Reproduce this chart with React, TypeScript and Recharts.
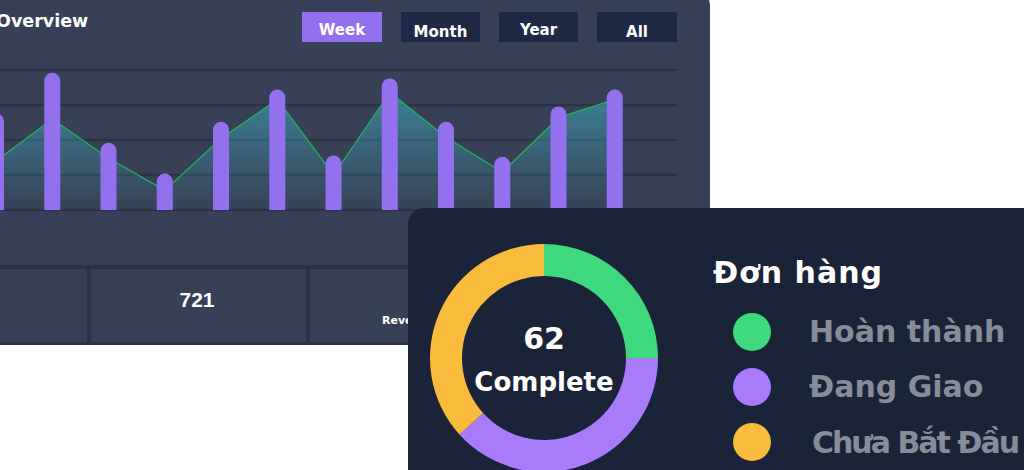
import React from 'react';
import { ComposedChart, Bar, Area, XAxis, YAxis, CartesianGrid, PieChart, Pie, Cell } from 'recharts';

// ---- data ----
const periods = ['P1', 'P2', 'P3', 'P4', 'P5', 'P6', 'P7', 'P8', 'P9', 'P10', 'P11', 'P12'];
const barValues = [69, 98, 48, 26, 63, 86, 39, 94, 63, 38, 74, 86];
const areaValues = [35, 65, 37, 14, 51, 79, 25, 84, 52, 27, 66, 79];
const yTicks = [0, 25, 50, 75, 100];
const rangeButtons = ['Week', 'Month', 'Year', 'All'];
const statValue = '721';
const statLabel = 'Revenue';
const chartTitle = 'Overview';

const orderTitle = 'Đơn hàng';
const orderLabels = ['Hoàn thành', 'Đang Giao', 'Chưa Bắt Đầu'];
const orderValues = [62, 95, 91];
const orderColors = ['#3dd97c', '#a87bfa', '#f8bb3c'];
const centerValue = '62';
const centerLabel = 'Complete';

const chartData = periods.map((p, i) => ({ name: p, bar: barValues[i], area: areaValues[i] }));
const pieData = orderLabels.map((l, i) => ({ name: l, value: orderValues[i] }));

const FONT = '"DejaVu Sans", sans-serif';
const CARD1 = '#374056';
const SEP = '#2b3345';

// button layout (card-local)
const btnX = [342, 441, 539, 637];
const btnW = [80, 79, 79, 80];
const btnTextY = [48.7, 50.7, 48.7, 50.7];

export default function App() {
  return (
    <div style={{ position: 'absolute', left: 0, top: 0, width: 1024, height: 470, overflow: 'hidden', background: '#ffffff' }}>
      {/* Overview card */}
      <div style={{ position: 'absolute', left: -40, top: -14, width: 750, height: 359, borderRadius: 20, background: CARD1, overflow: 'hidden' }}>
        <svg width={750} height={359} style={{ position: 'absolute', left: 0, top: 0 }}>
          <text x={36} y={41} fill="#ffffff" fontFamily={FONT} fontWeight={700} fontSize={17.5}>{chartTitle}</text>
          {rangeButtons.map((b, i) => (
            <g key={b}>
              <rect x={btnX[i]} y={26} width={btnW[i]} height={30} fill={i === 0 ? '#9370ee' : '#1f2945'} />
              <text x={btnX[i] + btnW[i] / 2} y={btnTextY[i]} textAnchor="middle" fill="#ffffff" fontFamily={FONT} fontWeight={700} fontSize={15}>{b}</text>
            </g>
          ))}
          <rect x={0} y={279} width={750} height={4} fill={SEP} />
          <rect x={127} y={283} width={4} height={76} fill={SEP} />
          <rect x={346} y={283} width={4} height={76} fill={SEP} />
          <rect x={0} y={356} width={750} height={3} fill={SEP} />
          <text x={237} y={320.7} textAnchor="middle" fill="#ffffff" fontFamily={'"Liberation Sans", sans-serif'} fontWeight={700} fontSize={21}>{statValue}</text>
          <text x={422} y={338} fill="#ffffff" fontFamily={FONT} fontWeight={700} fontSize={11}>{statLabel}</text>
        </svg>
        <div style={{ position: 'absolute', left: 8, top: 79 }}>
          <ComposedChart width={709} height={150} data={chartData} margin={{ top: 5, right: 0, bottom: 5, left: 0 }}>
            <defs>
              <linearGradient id="areaFill" x1="0" y1="0" x2="0" y2="1">
                <stop offset="0%" stopColor="#41c2d6" stopOpacity={0.85} />
                <stop offset="100%" stopColor="#41c2d6" stopOpacity={0.02} />
              </linearGradient>
            </defs>
            <CartesianGrid vertical={false} stroke={SEP} strokeWidth={2.6} />
            <XAxis dataKey="name" hide padding={{ left: 0, right: 34 }} />
            <YAxis hide domain={[0, 100]} ticks={yTicks} />
            <Area type="linear" dataKey="area" stroke="#1fb158" strokeWidth={1.3} fill="url(#areaFill)" isAnimationActive={false} dot={false} activeDot={false} />
            <Bar dataKey="bar" fill="#9370ee" barSize={16} radius={[8, 8, 0, 0]} isAnimationActive={false} />
          </ComposedChart>
        </div>
      </div>

      {/* Orders card */}
      <div style={{ position: 'absolute', left: 408, top: 208, width: 640, height: 280, borderRadius: 16, background: '#1b2338', overflow: 'hidden' }}>
        <div style={{ position: 'absolute', left: 0, top: 0 }}>
          <PieChart width={300} height={262} margin={{ top: 0, right: 0, bottom: 0, left: 0 }}>
            <Pie data={pieData} dataKey="value" nameKey="name" cx={136} cy={150} innerRadius={82} outerRadius={114} startAngle={90} endAngle={-270} stroke="none" isAnimationActive={false}>
              {pieData.map((d, i) => (
                <Cell key={d.name} fill={orderColors[i]} />
              ))}
            </Pie>
          </PieChart>
        </div>
        <svg width={640} height={280} style={{ position: 'absolute', left: 0, top: 0, pointerEvents: 'none' }}>
          <text x={136} y={141.3} textAnchor="middle" fill="#ffffff" fontFamily={FONT} fontWeight={700} fontSize={30}>{centerValue}</text>
          <text x={136} y={182.7} textAnchor="middle" fill="#ffffff" fontFamily={FONT} fontWeight={700} fontSize={26}>{centerLabel}</text>
          <text x={305} y={75} fill="#ffffff" fontFamily={FONT} fontWeight={700} fontSize={30} letterSpacing={1}>{orderTitle}</text>
          {orderLabels.map((l, i) => (
            <g key={l}>
              <ellipse cx={344} cy={124 + i * 55} rx={19} ry={19} fill={orderColors[i]} />
              <text x={i === 2 ? 404 : 401} y={133.7 + i * 55 + (i === 2 ? 1 : 0)} fill="#868c99" fontFamily={FONT} fontWeight={700} fontSize={30} letterSpacing={i === 2 ? -2 : 0}>{l}</text>
            </g>
          ))}
        </svg>
      </div>
    </div>
  );
}
